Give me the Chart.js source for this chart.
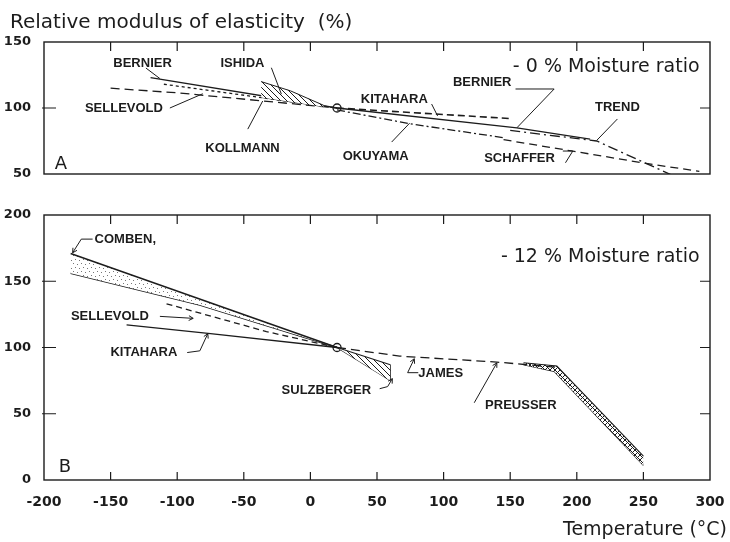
<!DOCTYPE html>
<html>
<head>
<meta charset="utf-8">
<script src="https://cdn.jsdelivr.net/npm/chart.js@4.4.1/dist/chart.umd.min.js"></script>
<style>
  html, body { margin: 0; padding: 0; background: #fff; }
  #wrap { position: relative; width: 730px; height: 542px; }
  canvas { position: absolute; left: 0; }
  #dry { top: 0; }
  #wet { top: 190px; }
</style>
</head>
<body>
<div id="wrap">
  <canvas id="dry" width="730" height="190"></canvas>
  <canvas id="wet" width="730" height="352"></canvas>
</div>
<script>
// temperature (deg C) vs relative modulus (%), [T, E] pairs

// A: 0 % moisture ratio
const bernierDry   = [[-120, 123], [20, 100], [155, 85], [210, 76.5]];
const sellevoldDry = [[-110, 118], [20, 100]];
const kollmannDry  = [[-150, 115], [-100, 111.5], [20, 100]];
const ishidaTop    = [[-37, 120], [-15, 113], [10, 102]];
const ishidaBottom = [[-37, 108], [10, 101]];
const kitaharaDry  = [[20, 100], [150, 92]];
const okuyamaDry   = [[20, 98.5], [75, 88], [145, 77.5]];
const schafferDry  = [[145, 76], [196, 67.5], [252, 58], [292, 52]];
const trendDry     = [[150, 83], [215, 75], [275, 47.5]];

// B: 12 % moisture ratio
const combenTop        = [[-180, 171], [20, 100]];
const combenBottom     = [[-180, 156], [-83, 132], [20, 100]];
const sellevoldWet     = [[-108, 133], [-33, 112], [20, 100]];
const kitaharaWet      = [[-138, 117], [-75, 110.5], [20, 100]];
const sulzbergerTop    = [[20, 100], [60, 87]];
const sulzbergerBottom = [[20, 100], [60, 75]];
const sulzbergerEdge   = [[60, 87], [60, 75]];
const jamesWet         = [[20, 100], [67, 93.5], [140, 89], [185, 85]];
const preusserTop      = [[160, 88.5], [185, 86], [250, 18]];
const preusserBottom   = [[160, 87], [183, 82], [250, 11]];

// reference point: 100 % at 20 C
const refPoint = [[20, 100]];

const tempTicks = [-200, -150, -100, -50, 0, 50, 100, 150, 200, 250, 300];
const dryTicks  = [50, 100, 150];
const wetTicks  = [0, 50, 100, 150, 200];

const ink = '#1c1c1c';
const labelFont = 'bold 13px "Liberation Sans", Arial, sans-serif';

// fill patterns
function makePattern(size, paint) {
  const c = document.createElement('canvas');
  c.width = c.height = size;
  const g = c.getContext('2d');
  g.fillStyle = '#fff';
  g.fillRect(0, 0, size, size);
  g.strokeStyle = ink;
  g.fillStyle = ink;
  g.lineWidth = 1;
  paint(g, size);
  return g.createPattern(c, 'repeat');
}
const hatch = makePattern(6, (g, s) => {
  g.beginPath();
  for (let k = -1; k <= 1; k++) { g.moveTo(k * s, 0); g.lineTo(k * s + s, s); }
  g.stroke();
});
const crossHatch = makePattern(5, (g, s) => {
  g.beginPath();
  for (let k = -1; k <= 1; k++) {
    g.moveTo(k * s, 0); g.lineTo(k * s + s, s);
    g.moveTo(k * s + s, 0); g.lineTo(k * s, s);
  }
  g.stroke();
});
const stipple = makePattern(8, (g) => {
  g.fillStyle = '#777';
  [[1, 1], [5, 2], [3, 5], [7, 6]].forEach(([x, y]) => g.fillRect(x, y, 1, 1));
});

const pts = arr => arr.map(([x, y]) => ({ x, y }));
function line(data, style) {
  return Object.assign({
    data: pts(data), borderColor: ink, borderWidth: 1.3,
    pointRadius: 0, fill: false, tension: 0
  }, style || {});
}
function refDot() {
  return {
    data: pts(refPoint), showLine: false, pointRadius: 4,
    pointBackgroundColor: '#fff', pointBorderColor: ink, pointBorderWidth: 1.3
  };
}

// frame, inward ticks, captions and leader lines
function arrowHead(ctx, x0, y0, x1, y1) {
  const a = Math.atan2(y1 - y0, x1 - x0), s = 5;
  ctx.moveTo(x1, y1);
  ctx.lineTo(x1 - s * Math.cos(a - 0.5), y1 - s * Math.sin(a - 0.5));
  ctx.moveTo(x1, y1);
  ctx.lineTo(x1 - s * Math.cos(a + 0.5), y1 - s * Math.sin(a + 0.5));
}
const paper = {
  id: 'paper',
  afterDatasetsDraw(chart, args, o) {
    const { ctx, chartArea: a, scales: { x, y } } = chart;
    ctx.save();
    ctx.strokeStyle = ink;
    ctx.lineWidth = 1.4;
    ctx.strokeRect(a.left, a.top, a.width, a.height);

    ctx.beginPath();
    ctx.lineWidth = 1.2;
    (o.top || []).forEach(v => { const p = x.getPixelForValue(v); ctx.moveTo(p, a.top); ctx.lineTo(p, a.top + 9); });
    (o.bottom || []).forEach(v => { const p = x.getPixelForValue(v); ctx.moveTo(p, a.bottom); ctx.lineTo(p, a.bottom - 8); });
    (o.left || []).forEach(v => { const p = y.getPixelForValue(v); ctx.moveTo(a.left - 2, p); ctx.lineTo(a.left + 12, p); });
    (o.right || []).forEach(v => { const p = y.getPixelForValue(v); ctx.moveTo(a.right, p); ctx.lineTo(a.right - 10, p); });
    ctx.stroke();

    ctx.fillStyle = ink;
    ctx.textBaseline = 'middle';
    (o.notes || []).forEach(n => {
      ctx.font = n.font || labelFont;
      ctx.textAlign = n.align || 'center';
      ctx.fillText(n.text, x.getPixelForValue(n.at[0]), y.getPixelForValue(n.at[1]));
      if (n.lead) {
        const q = n.lead.map(([u, v]) => [x.getPixelForValue(u), y.getPixelForValue(v)]);
        ctx.beginPath();
        ctx.lineWidth = 1;
        q.forEach(([u, v], i) => i ? ctx.lineTo(u, v) : ctx.moveTo(u, v));
        if (n.arrow) {
          const [p0, p1] = q.slice(-2);
          arrowHead(ctx, p0[0], p0[1], p1[0], p1[1]);
        }
        ctx.stroke();
      }
    });
    (o.captions || []).forEach(c => {
      ctx.font = c.font;
      ctx.textAlign = c.align;
      ctx.fillText(c.text, c.px[0], c.px[1]);
    });
    ctx.restore();
  }
};

const tickFont = { family: 'DejaVu Sans', size: 13, weight: 'bold' };
const bigFont = '19px "DejaVu Sans", sans-serif';

function baseOptions(yMin, yMax, yTicks, padding, xHeight) {
  return {
    responsive: false,
    animation: false,
    events: [],
    devicePixelRatio: 1,
    layout: { padding },
    plugins: { legend: { display: false }, tooltip: { enabled: false } },
    scales: {
      x: {
        type: 'linear', min: -200, max: 300,
        grid: { display: false }, border: { display: false },
        afterBuildTicks: s => { s.ticks = tempTicks.map(value => ({ value })); },
        ticks: { font: { family: 'DejaVu Sans', size: 14, weight: 'bold' }, color: ink, padding: 6, maxRotation: 0, autoSkip: false },
        afterFit: s => { s.height = xHeight; s.paddingLeft = 0; s.paddingRight = 0; }
      },
      y: {
        type: 'linear', min: yMin, max: yMax,
        grid: { display: false }, border: { display: false },
        afterBuildTicks: s => { s.ticks = yTicks.map(value => ({ value })); },
        ticks: { font: tickFont, color: ink, padding: 5 },
        afterFit: s => { s.width = 44; s.paddingTop = 0; s.paddingBottom = 0; }
      }
    }
  };
}

// panel A
const dryOptions = baseOptions(50, 150, dryTicks, { top: 42, right: 20, bottom: 16, left: 0 }, 0);
dryOptions.scales.x.display = false;
dryOptions.plugins.paper = {
  top: [-150, -100, -50, 0, 50, 100, 150, 200, 250],
  left: [100], right: [100],
  notes: [
    { text: 'BERNIER', at: [-126, 134], lead: [[-123.5, 130.3], [-113, 122.3]] },
    { text: 'ISHIDA', at: [-51, 134], lead: [[-29.3, 130.5], [-21.8, 110.5]] },
    { text: 'SELLEVOLD', at: [-140, 100], lead: [[-105.5, 100], [-80.8, 110.8]] },
    { text: 'KOLLMANN', at: [-51, 69], lead: [[-47, 84], [-35.8, 105.3]] },
    { text: 'OKUYAMA', at: [49, 63.6], lead: [[61, 74.2], [74.5, 88.5]] },
    { text: 'KITAHARA', at: [63, 106.8], lead: [[91, 103], [95.5, 94]] },
    { text: 'BERNIER', at: [129, 119.7], lead: [[154, 114.4], [183, 114.4], [155, 85]] },
    { text: 'TREND', at: [230.5, 100.8], lead: [[230.5, 91.7], [215, 75.5]] },
    { text: 'SCHAFFER', at: [157, 62], lead: [[189.5, 67.4], [197, 67.4], [191.5, 58.5]] },
    { text: '- 0 % Moisture ratio', at: [152, 131], align: 'left', font: bigFont },
    { text: 'A', at: [-192, 57.6], align: 'left', font: '18px "DejaVu Sans", sans-serif' }
  ],
  captions: [
    { text: 'Relative modulus of elasticity  (%)', px: [10, 23], align: 'left', font: '20px "DejaVu Sans", sans-serif' }
  ]
};

new Chart(document.getElementById('dry'), {
  type: 'line',
  data: {
    datasets: [
      line(ishidaTop, { fill: '+1', backgroundColor: hatch, borderWidth: 1 }),
      line(ishidaBottom, { borderWidth: 1 }),
      line(bernierDry),
      line(sellevoldDry, { borderDash: [3, 3] }),
      line(kollmannDry, { borderDash: [9, 5] }),
      line(kitaharaDry, { borderDash: [7, 4], borderWidth: 1.6 }),
      line(okuyamaDry, { borderDash: [8, 3, 2, 3] }),
      line(schafferDry, { borderDash: [8, 5] }),
      line(trendDry, { borderDash: [10, 4, 2, 4] }),
      refDot()
    ]
  },
  options: dryOptions,
  plugins: [paper]
});

// panel B
const wetOptions = baseOptions(0, 200, wetTicks, { top: 25, right: 20, bottom: 0, left: 0 }, 62);
wetOptions.plugins.paper = {
  top: [-150, -100, -50, 0, 50, 100, 150, 200, 250],
  bottom: [-150, -100, -50, 0, 50, 100, 150, 200, 250],
  left: [50, 100, 150], right: [50, 100, 150],
  notes: [
    { text: 'COMBEN,', at: [-162, 181.5], align: 'left', lead: [[-163.5, 181.8], [-172, 181.8], [-178.5, 171.5]], arrow: true },
    { text: 'SELLEVOLD', at: [-150.5, 123.5], lead: [[-113, 123.5], [-88, 122]], arrow: true },
    { text: 'KITAHARA', at: [-125, 96.2], lead: [[-92.5, 96.2], [-83, 97.5], [-77, 110.5]], arrow: true },
    { text: 'SULZBERGER', at: [12, 67.4], lead: [[52, 68.9], [58, 70.5], [61.5, 76.5]], arrow: true },
    { text: 'JAMES', at: [81, 80.3], align: 'left', lead: [[81, 81], [73, 81], [78, 91.5]], arrow: true },
    { text: 'PREUSSER', at: [158, 56], lead: [[123, 58.3], [140, 88.4]], arrow: true },
    { text: '- 12 % Moisture ratio', at: [143, 168.2], align: 'left', font: bigFont },
    { text: 'B', at: [-189, 9.5], align: 'left', font: '18px "DejaVu Sans", sans-serif' }
  ],
  captions: [
    { text: 'Temperature (°C)', px: [727, 340], align: 'right', font: bigFont }
  ]
};

new Chart(document.getElementById('wet'), {
  type: 'line',
  data: {
    datasets: [
      line(combenTop, { fill: '+1', backgroundColor: stipple, borderWidth: 1.5 }),
      line(combenBottom, { borderWidth: 1.5 }),
      line(sellevoldWet, { borderDash: [6, 4] }),
      line(kitaharaWet),
      line(sulzbergerTop, { fill: '+1', backgroundColor: hatch, borderWidth: 1.1 }),
      line(sulzbergerBottom, { borderWidth: 1.1 }),
      line(sulzbergerEdge, { borderWidth: 1.1 }),
      line(jamesWet, { borderDash: [9, 5] }),
      line(preusserTop, { fill: '+1', backgroundColor: crossHatch, borderWidth: 1.1 }),
      line(preusserBottom, { borderWidth: 1.1 }),
      refDot()
    ]
  },
  options: wetOptions,
  plugins: [paper]
});
</script>
</body>
</html>
